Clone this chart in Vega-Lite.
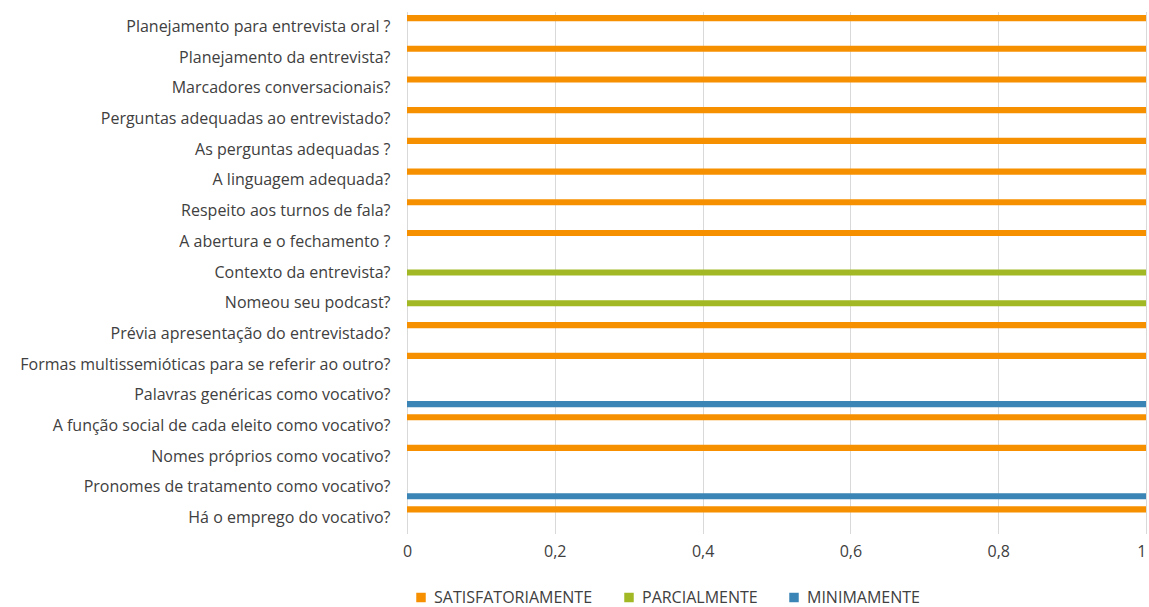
{
  "$schema": "https://vega.github.io/schema/vega-lite/v6.json",
  "autosize": {"type": "none"},
  "padding": {"left": 407, "top": 11.5, "right": 3, "bottom": 73.5},
  "width": 739,
  "height": 522,
  "background": "white",
  "config": {
    "view": {"stroke": null},
    "font": "Open Sans"
  },
  "data": {
    "values": [
      {"pergunta": "Planejamento para entrevista oral ?", "nivel": "SATISFATORIAMENTE", "valor": 1},
      {"pergunta": "Planejamento da entrevista?", "nivel": "SATISFATORIAMENTE", "valor": 1},
      {"pergunta": "Marcadores conversacionais?", "nivel": "SATISFATORIAMENTE", "valor": 1},
      {"pergunta": "Perguntas adequadas ao entrevistado?", "nivel": "SATISFATORIAMENTE", "valor": 1},
      {"pergunta": "As perguntas  adequadas ?", "nivel": "SATISFATORIAMENTE", "valor": 1},
      {"pergunta": "A linguagem adequada?", "nivel": "SATISFATORIAMENTE", "valor": 1},
      {"pergunta": "Respeito aos turnos de fala?", "nivel": "SATISFATORIAMENTE", "valor": 1},
      {"pergunta": "A abertura e o fechamento ?", "nivel": "SATISFATORIAMENTE", "valor": 1},
      {"pergunta": "Contexto da entrevista?", "nivel": "PARCIALMENTE", "valor": 1},
      {"pergunta": "Nomeou seu podcast?", "nivel": "PARCIALMENTE", "valor": 1},
      {"pergunta": "Prévia apresentação do entrevistado?", "nivel": "SATISFATORIAMENTE", "valor": 1},
      {"pergunta": "Formas multissemióticas para se referir ao outro?", "nivel": "SATISFATORIAMENTE", "valor": 1},
      {"pergunta": "Palavras genéricas como vocativo?", "nivel": "MINIMAMENTE", "valor": 1},
      {"pergunta": "A função social de cada eleito como vocativo?", "nivel": "SATISFATORIAMENTE", "valor": 1},
      {"pergunta": "Nomes próprios como vocativo?", "nivel": "SATISFATORIAMENTE", "valor": 1},
      {"pergunta": "Pronomes de tratamento como vocativo?", "nivel": "MINIMAMENTE", "valor": 1},
      {"pergunta": "Há o emprego do vocativo?", "nivel": "SATISFATORIAMENTE", "valor": 1}
    ]
  },
  "mark": {"type": "bar"},
  "encoding": {
    "y": {
      "field": "pergunta",
      "type": "nominal",
      "sort": null,
      "scale": {"paddingInner": 0.14, "paddingOuter": 0.07},
      "axis": {
        "title": null,
        "domain": false,
        "ticks": false,
        "grid": false,
        "labelPadding": 17,
        "labelFontSize": 16,
        "labelColor": "#404040",
        "labelLimit": 420
      }
    },
    "yOffset": {
      "field": "nivel",
      "type": "nominal",
      "scale": {"domain": ["SATISFATORIAMENTE", "PARCIALMENTE", "MINIMAMENTE"], "paddingInner": 0.3, "paddingOuter": 0.15}
    },
    "x": {
      "field": "valor",
      "type": "quantitative",
      "scale": {"domain": [0, 1], "nice": false},
      "axis": {
        "title": null,
        "values": [0, 0.2, 0.4, 0.6, 0.8, 1],
        "labelExpr": "replace(datum.label, '.', ',')",
        "format": "~g",
        "domain": false,
        "ticks": false,
        "grid": true,
        "gridColor": "#d9d9d9",
        "gridWidth": 1,
        "labelPadding": 10,
        "labelFontSize": 16,
        "labelColor": "#404040",
        "labelFlush": false,
        "labelAlign": {"condition": {"test": "datum.value == 1", "value": "right"}, "value": "center"}
      }
    },
    "color": {
      "field": "nivel",
      "type": "nominal",
      "scale": {
        "domain": ["SATISFATORIAMENTE", "PARCIALMENTE", "MINIMAMENTE"],
        "range": ["#F79000", "#A2B925", "#3A85B5"]
      },
      "legend": {
        "title": null,
        "orient": "none",
        "direction": "horizontal",
        "legendX": 6,
        "legendY": 578,
        "symbolType": "square",
        "symbolSize": 90,
        "symbolStrokeWidth": 0,
        "labelFontSize": 16,
        "labelColor": "#404040",
        "columnPadding": 28,
        "labelOffset": 5
      }
    }
  }
}
